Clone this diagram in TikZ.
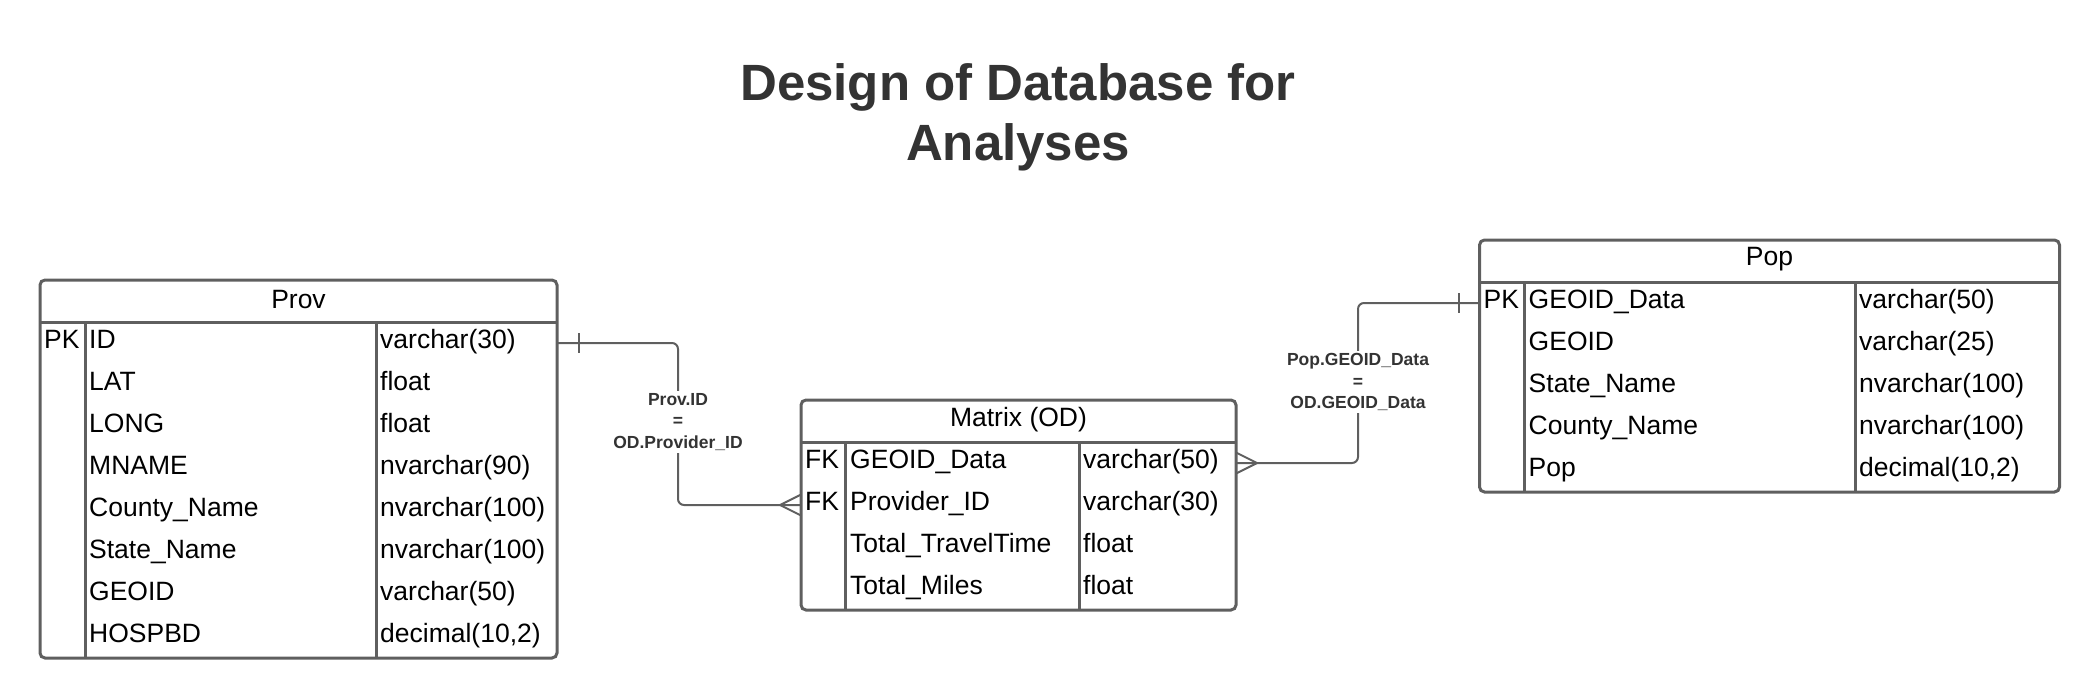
\documentclass[tikz,border=0pt]{standalone}
\usepackage{fontspec}
\setmainfont{Liberation Sans}
\definecolor{edgegray}{HTML}{5F5F5F}
\definecolor{inkgray}{HTML}{333333}

\begin{document}
\begin{tikzpicture}[x=1pt,y=-1pt,
        tbl/.style={draw=edgegray,line width=3pt},
        hdr/.style={font=\fontsize{26.5}{30}\selectfont},
        fld/.style={anchor=base west,inner sep=2pt,font=\fontsize{26.5}{30}\selectfont},
        rel/.style={draw=edgegray,line width=2pt,rounded corners=6pt},
        rlbl/.style={fill=white,align=center,inner sep=2pt,text=inkgray,font=\bfseries\fontsize{17.5}{21.5}\selectfont}]
        \useasboundingbox (0,0) rectangle (2100,698);

        \node[anchor=base,align=center,text=inkgray,font=\bfseries\fontsize{51}{59}\selectfont] (title) at (1018,160) {Design of Database for\\Analyses};

        % Prov
        \draw[tbl,rounded corners=5pt] (40,280) rectangle (557,658);
        \draw[tbl] (40,322) -- (557,322) (85,322) -- (85,658) (376,322) -- (376,658);
        \node[hdr] (prov) at (298.5,299.5) {Prov};
        \foreach \k/\f/\t [count=\i] in {PK/ID/varchar(30), /LAT/float, /LONG/float, /MNAME/nvarchar(90),
                /County\_Name/nvarchar(100), /State\_Name/nvarchar(100), /GEOID/varchar(50), /HOSPBD/{decimal(10,2)}}{
            \coordinate (prov-w\i) at (40,{301+42*\i});
            \coordinate (prov-e\i) at (557,{301+42*\i});
            \node[fld] (prov-k\i) at (42,{306+42*\i}) {\k};
            \node[fld] (prov-f\i) at (87,{306+42*\i}) {\f};
            \node[fld] (prov-t\i) at (378,{306+42*\i}) {\t};
        }

        % Matrix (OD)
        \draw[tbl,rounded corners=5pt] (801,400) rectangle (1236,610);
        \draw[tbl] (801,442) -- (1236,442) (845,442) -- (845,610) (1079,442) -- (1079,610);
        \node[hdr] (od) at (1018.5,419.5) {Matrix (OD)};
        \foreach \k/\f/\t [count=\i] in {FK/GEOID\_Data/varchar(50), FK/Provider\_ID/varchar(30),
                /Total\_TravelTime/float, /Total\_Miles/float}{
            \coordinate (od-w\i) at (801,{421+42*\i});
            \coordinate (od-e\i) at (1236,{421+42*\i});
            \node[fld] (od-k\i) at (803,{426+42*\i}) {\k};
            \node[fld] (od-f\i) at (848,{426+42*\i}) {\f};
            \node[fld] (od-t\i) at (1081,{426+42*\i}) {\t};
        }

        % Pop
        \draw[tbl,rounded corners=5pt] (1479.5,240) rectangle (2059.5,492);
        \draw[tbl] (1479.5,282) -- (2059.5,282) (1524.5,282) -- (1524.5,492) (1855,282) -- (1855,492);
        \node[hdr] (pop) at (1769.5,259.5) {Pop};
        \foreach \k/\f/\t [count=\i] in {PK/GEOID\_Data/varchar(50), /GEOID/varchar(25), /State\_Name/nvarchar(100),
                /County\_Name/nvarchar(100), /Pop/{decimal(10,2)}}{
            \coordinate (pop-w\i) at (1479.5,{261+42*\i});
            \coordinate (pop-e\i) at (2059.5,{261+42*\i});
            \node[fld] (pop-k\i) at (1481.5,{266+42*\i}) {\k};
            \node[fld] (pop-f\i) at (1526.5,{266+42*\i}) {\f};
            \node[fld] (pop-t\i) at (1857,{266+42*\i}) {\t};
        }

        % Prov.ID -- OD.Provider_ID
        \coordinate (mid1) at (678,422);
        \draw[rel] (prov-e1) -| (mid1) |- (od-w2);
        \draw[rel] ([xshift=22pt]prov-e1) ++(0,-10) -- ++(0,20);
        \draw[rel,rounded corners=0pt] ([yshift=10.5pt]od-w2) -- ([xshift=-21pt]od-w2) -- ([yshift=-10.5pt]od-w2);
        \node[rlbl] (lbl1) at (mid1) {Prov.ID\\=\\OD.Provider\_ID};

        % OD.GEOID_Data -- Pop.GEOID_Data
        \coordinate (mid2) at (1358,382);
        \draw[rel] (od-e1) -| (mid2) |- (pop-w1);
        \draw[rel] ([xshift=-21pt]pop-w1) ++(0,-10) -- ++(0,20);
        \draw[rel,rounded corners=0pt] ([yshift=10.5pt]od-e1) -- ([xshift=21pt]od-e1) -- ([yshift=-10.5pt]od-e1);
        \node[rlbl] (lbl2) at (mid2) {Pop.GEOID\_Data\\=\\OD.GEOID\_Data};

    \end{tikzpicture}
\end{document}
